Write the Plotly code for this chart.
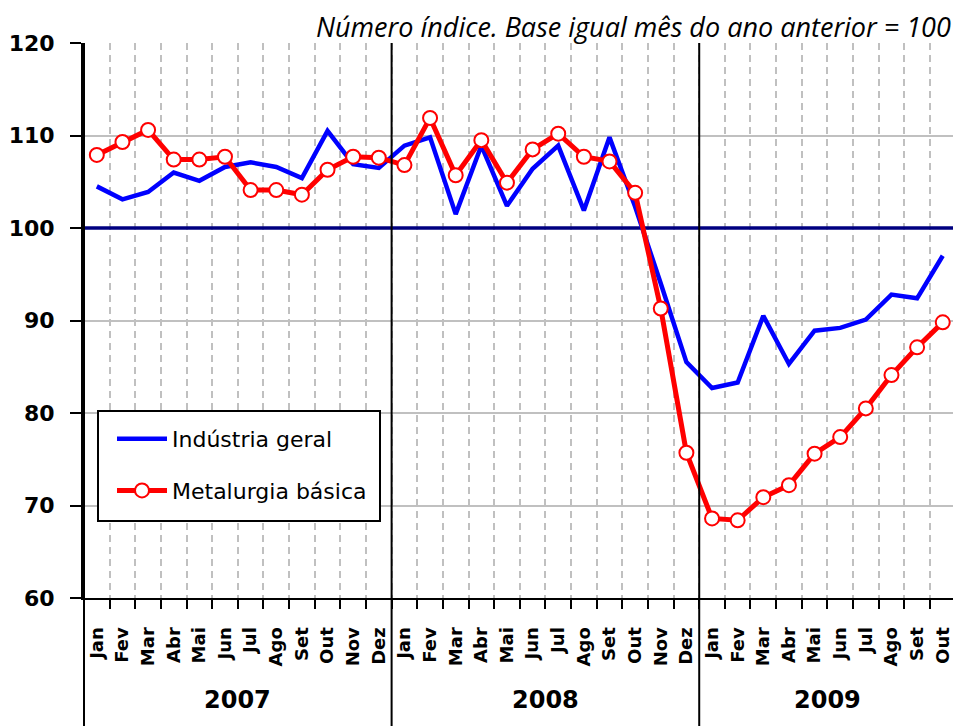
import plotly.graph_objects as go

# ---------------- data ----------------
years = ["2007", "2008", "2009"]
months_2007 = ["Jan", "Fev", "Mar", "Abr", "Mai", "Jun", "Jul", "Ago", "Set", "Out", "Nov", "Dez"]
months_2008 = ["Jan", "Fev", "Mar", "Abr", "Mai", "Jun", "Jul", "Ago", "Set", "Out", "Nov", "Dez"]
months_2009 = ["Jan", "Fev", "Mar", "Abr", "Mai", "Jun", "Jul", "Ago", "Set", "Out"]

industria_geral = [
    104.5, 103.1, 103.9, 106.0, 105.1, 106.6, 107.1, 106.6, 105.4, 110.5, 106.9, 106.5,
    108.9, 109.8, 101.5, 108.9, 102.4, 106.4, 108.9, 101.9, 109.8, 102.3, 94.0, 85.5,
    82.7, 83.3, 90.5, 85.3, 88.9, 89.2, 90.1, 92.8, 92.4, 97.0,
]
metalurgia_basica = [
    107.9, 109.3, 110.6, 107.4, 107.4, 107.7, 104.1, 104.1, 103.6, 106.3, 107.7, 107.6,
    106.8, 111.9, 105.7, 109.5, 104.9, 108.5, 110.2, 107.7, 107.2, 103.8, 91.3, 75.7,
    68.6, 68.4, 70.9, 72.2, 75.6, 77.4, 80.5, 84.1, 87.1, 89.8,
]
base_value = 100
y_ticks = [60, 70, 80, 90, 100, 110, 120]
title_text = "Número índice. Base igual mês do ano anterior = 100"
series_names = ["Indústria geral", "Metalurgia básica"]

# ---------------- derived positions ----------------
month_groups = [months_2007, months_2008, months_2009]
labels = months_2007 + months_2008 + months_2009
N = len(labels)
xs = list(range(N))
xmin, xmax = -0.5, N - 0.6
boundaries = [i + 0.5 for i in range(N - 1)]

year_starts = []
s = 0
for g in month_groups:
    year_starts.append(s)
    s += len(g)

# plot area geometry (px)
W, H = 953, 726
ML, MR, MT, MB = 84, 0, 43, 128
PW = W - ML - MR
PH = H - MT - MB


def px_y(ypx):
    return (H - MB - ypx) / PH


def px_x(xpx):
    return (xpx - ML) / PW


def data_x_to_paper(x):
    return (x - xmin) / (xmax - xmin)


fig = go.Figure()

# reference line at base value (drawn first, under the series)
fig.add_trace(go.Scatter(
    x=[xmin, xmax], y=[base_value, base_value], mode="lines",
    line=dict(color="#000080", width=3.5), showlegend=False, hoverinfo="skip",
))
fig.add_trace(go.Scatter(
    x=xs, y=industria_geral, name=series_names[0], mode="lines",
    line=dict(color="#0000FF", width=4.5),
    legendgroup="a",
))
fig.add_trace(go.Scatter(
    x=xs, y=metalurgia_basica, name=series_names[1], mode="lines+markers",
    line=dict(color="#FF0000", width=5),
    marker=dict(symbol="circle", size=14, color="white", line=dict(color="#FF0000", width=2)),
    legendgroup="b",
))

shapes = []
# year separators
for st in year_starts:
    xp = data_x_to_paper(st - 0.5)
    shapes.append(dict(type="line", xref="paper", yref="paper", x0=xp, x1=xp, y0=px_y(H), y1=1,
                       line=dict(color="black", width=2), layer="above"))
# legend box
shapes.append(dict(type="rect", xref="paper", yref="paper",
                   x0=px_x(98), x1=px_x(380), y0=px_y(521), y1=px_y(411),
                   line=dict(color="black", width=2), fillcolor="white", layer="above"))

annotations = []
for st, g, yr in zip(year_starts, month_groups, years):
    annotations.append(dict(x=st + len(g) / 2 - 0.5, xref="x", y=px_y(700), yref="paper",
                            text=yr, showarrow=False, xanchor="center", yanchor="middle",
                            font=dict(family="DejaVu Sans", size=24, color="black", weight="bold")))
annotations.append(dict(x=1, xref="paper", y=px_y(26), yref="paper", text=title_text,
                        showarrow=False, xanchor="right", yanchor="middle",
                        font=dict(family="Open Sans", size=27, color="black", style="italic")))

fig.update_layout(
    width=W, height=H,
    margin=dict(l=ML, r=MR, t=MT, b=MB),
    paper_bgcolor="white", plot_bgcolor="white",
    shapes=shapes, annotations=annotations,
    showlegend=True,
    legend=dict(x=px_x(112), y=px_y(418), xanchor="left", yanchor="top",
                bgcolor="rgba(0,0,0,0)", borderwidth=0,
                font=dict(family="DejaVu Sans", size=22, color="black"),
                traceorder="grouped", tracegroupgap=20, itemwidth=50),
    xaxis=dict(
        range=[xmin, xmax], tickmode="array", tickvals=xs, ticktext=labels,
        tickangle=-90, ticks="", showgrid=False, zeroline=False,
        tickfont=dict(family="DejaVu Sans", size=18, color="black", weight="bold"),
        showline=True, linecolor="black", linewidth=2,
        ticklabelstandoff=20,
        minor=dict(tickmode="array", tickvals=boundaries, ticks="outside", ticklen=9,
                   tickcolor="black", tickwidth=2, showgrid=True, gridcolor="#c0c0c0",
                   gridwidth=2, griddash="7px,5px"),
    ),
    yaxis=dict(
        range=[60, 120], tickmode="array", tickvals=y_ticks, ticks="outside", ticklen=11,
        tickwidth=2, tickcolor="black", showline=True, linecolor="black", linewidth=3,
        showgrid=True, gridcolor="#c0c0c0", gridwidth=2, zeroline=False,
        tickfont=dict(family="DejaVu Sans", size=22, color="black", weight="bold"),
        ticklabelstandoff=11,
    ),
)

fig.write_html("out.html", config={"displayModeBar": False},
               post_script="document.body.style.margin='0px';")
